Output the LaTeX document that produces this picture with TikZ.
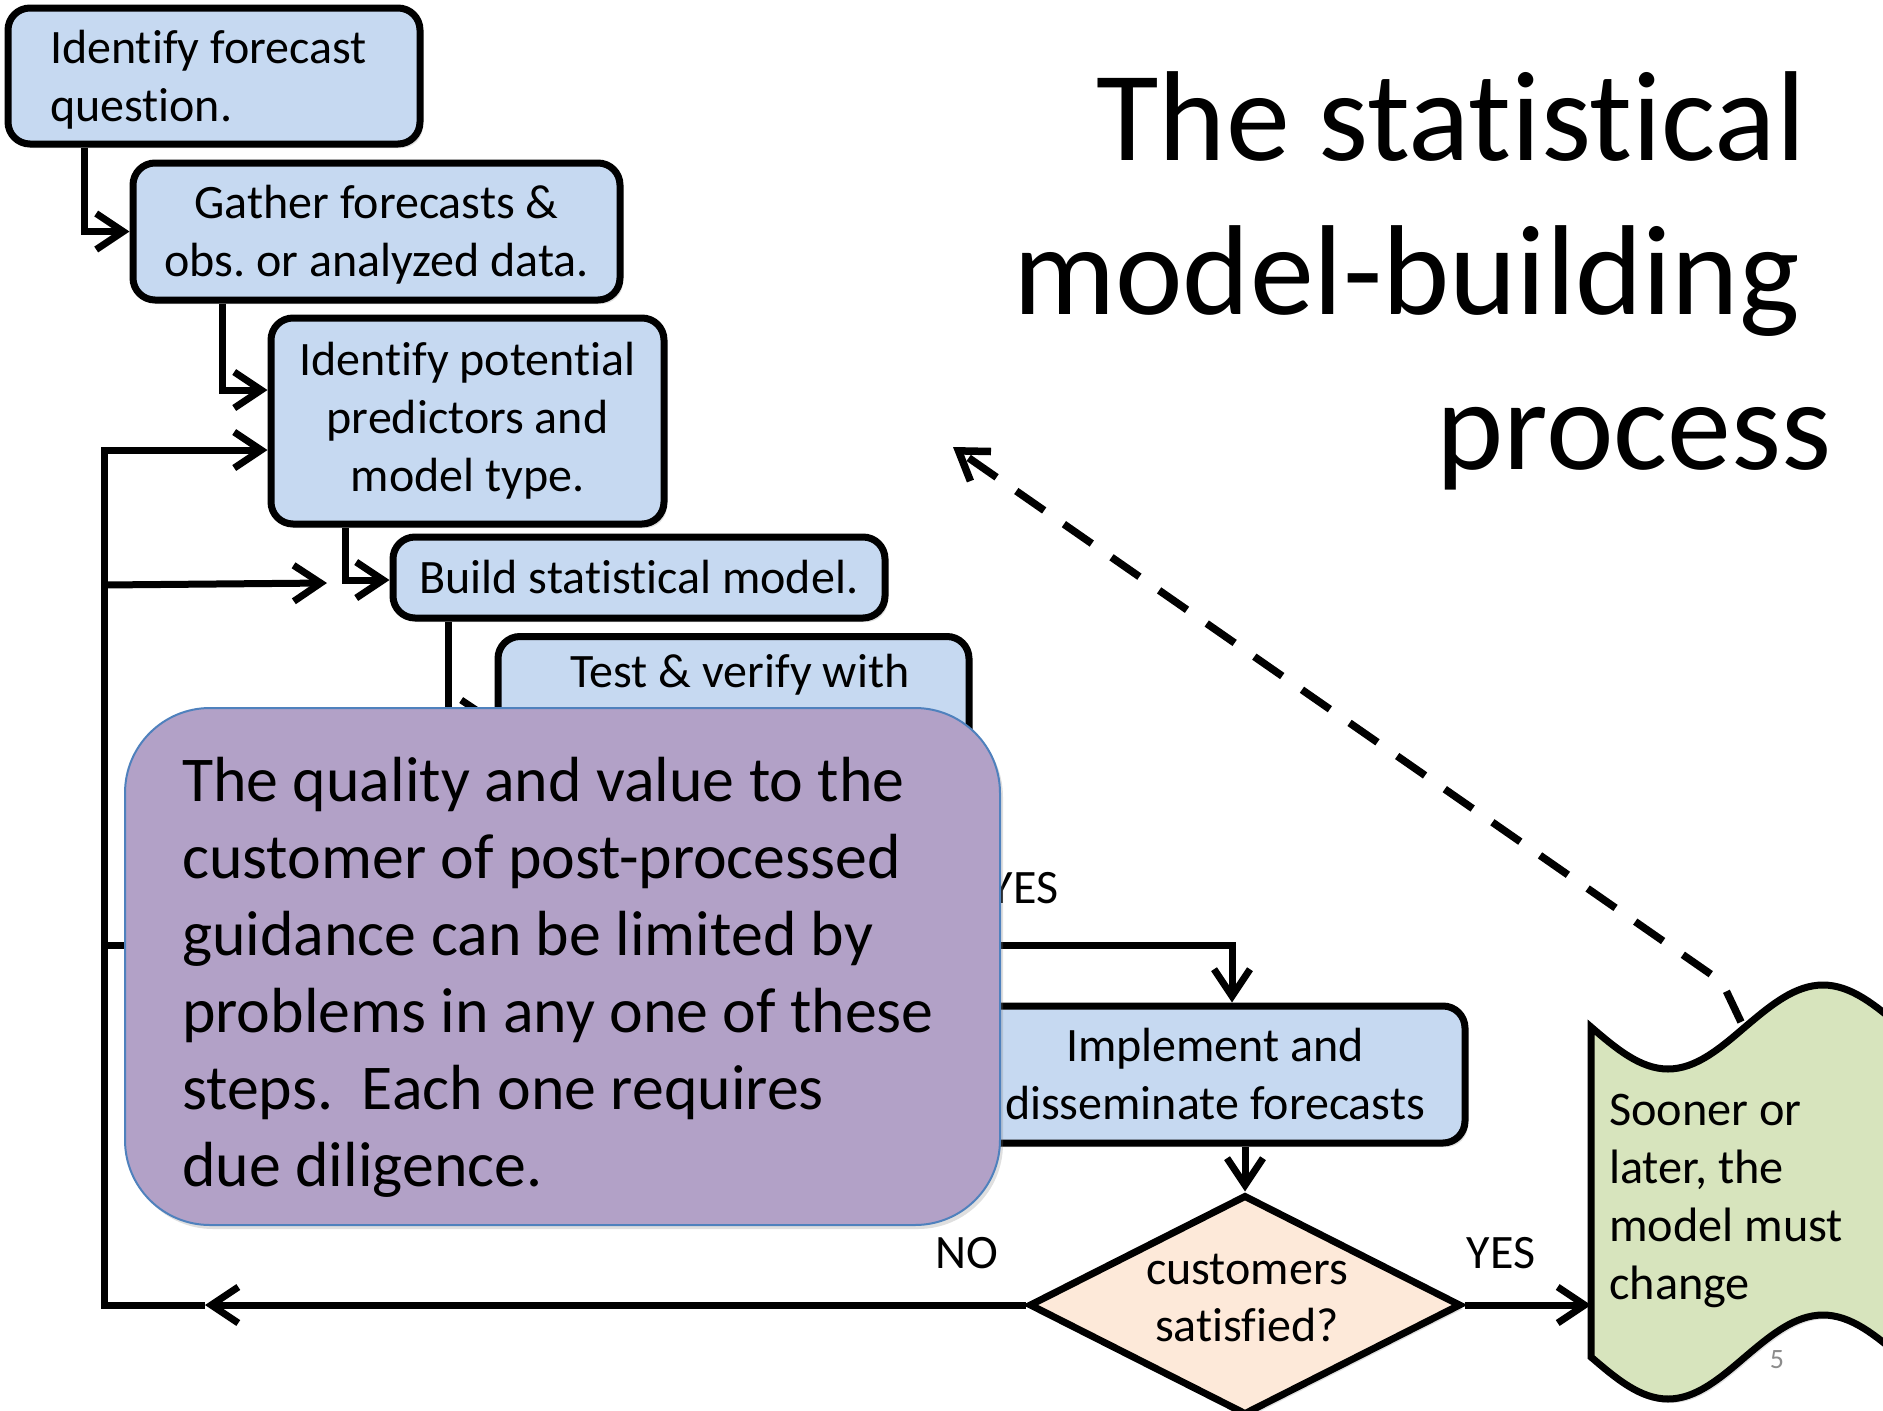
\documentclass[tikz,border=0pt]{standalone}
\usepackage{fontspec}
\setmainfont{Carlito}[Ligatures={NoCommon}]
\usetikzlibrary{arrows.meta,shapes.geometric,shadows,calc}
\definecolor{boxblue}{HTML}{C6D9F1}
\definecolor{notepurple}{HTML}{B2A1C7}
\definecolor{noteedge}{HTML}{4F81BD}
\definecolor{peach}{HTML}{FDE9D9}
\definecolor{tapegreen}{HTML}{D7E4BD}
\definecolor{pagegray}{HTML}{8C8C8C}
\frenchspacing
\begin{document}
\begin{tikzpicture}[x=1pt,y=-1pt,
  shade/.style={drop shadow={opacity=0.25,shadow xshift=3pt,shadow yshift=-4pt}},
  bluebox/.style={draw=black,line width=7pt,fill=boxblue,rounded corners=22pt,inner sep=0pt,shade,align=flush center,font=\fontsize{48}{58}\selectfont},
  txt/.style={inner sep=0pt,font=\fontsize{48}{57.5}\selectfont},
  conn/.style={line width=7pt},
  arr/.style={conn,-{Straight Barb[length=27pt,width=36pt]}},
  ttl/.style={inner sep=0pt,anchor=base east,font=\fontsize{128}{156}\selectfont},
]
\useasboundingbox (0,0) rectangle (1883,1411);

% title
\node[ttl] (t1) at (1806,160) {The statistical};
\node[ttl] (t2) at (1800,314) {model-building};
\node[ttl] (t3) at (1832,469) {process};

% step boxes
\node[bluebox,minimum width=412pt,minimum height=136pt,text width=328pt,align=flush left] (b1) at (214,76) {\rule{0pt}{40pt}Identify forecast\\question.};
\node[bluebox,minimum width=487pt,minimum height=137pt,text width=440pt] (b2) at (376.5,231.5) {\rule{0pt}{40pt}Gather forecasts \&\\obs. or analyzed data.};
\node[bluebox,minimum width=393pt,minimum height=206pt,text width=360pt] (b3) at (467.5,421) {Identify potential\\predictors and\\model type.};
\node[bluebox,minimum width=492pt,minimum height=81pt,text width=480pt] (b4) at (639,577.5) {Build statistical model.};
\node[bluebox,minimum width=471pt,minimum height=150pt,anchor=north] (b5) at (733.5,633) {};
\node[txt] (b5t) at (740,675) {Test \& verify with};
\node[bluebox,minimum width=500pt,minimum height=137pt,text width=480pt] (b6) at (1215,1074.5) {Implement and\\disseminate forecasts};
\node[diamond,draw=black,line width=7pt,fill=peach,inner sep=0pt,minimum width=432pt,minimum height=220pt,shade] (dia) at (1245,1305) {};
\node[txt,align=center] (diat) at (1247,1298) {customers\\satisfied?};

% connectors down the staircase
\draw[arr] (b1.south -| 84,0) |- (b2.west);
\draw[arr] (b2.south -| 222,0) |- (b3.west |- 0,390);
\draw[arr] (b3.south -| 345,0) |- (b4.west |- 0,580);
\draw[arr] (b4.south -| 448,0) |- (b5.west |- 0,718);

% feedback loop
\coordinate (lb) at (205,1305);
\coordinate (c1) at (104,1305);
\coordinate (c2) at (104,450);
\coordinate (c3) at (104,585);
\coordinate (c4) at (327,583);
\coordinate (c5) at (104,945);
\coordinate (c6) at (1232,945);
\draw[arr] (dia.west) -- (lb);
\draw[arr] (lb) -- (c1) -- (c2) -- (c2 -| b3.west);
\draw[arr] (c3) -- (c4);
\draw[arr] (c5) -- (c6) -- (c6 |- b6.north);
\draw[arr] (b6.south -| dia.north) -- (dia.north);

% labels
\node[txt] (yes1) at (1024,888) {YES};
\node[txt] (no) at (967,1253) {NO};
\node[txt] (yes2) at (1501,1253) {YES};

% note
\node[draw=noteedge,line width=2pt,fill=notepurple,rounded corners=85pt,minimum width=875pt,minimum height=517pt,inner sep=0pt,shade] (note) at (562.5,966.5) {};
\node[anchor=west,align=left,inner sep=0pt,font=\fontsize{63.8}{77}\selectfont] (notet) at (182,977.5)
{The quality and value to the\\customer of post-processed\\guidance can be limited by\\problems in any one of these\\steps.\ \ Each one requires\\due diligence.};

% punched-tape shape
\draw[line width=7pt,fill=tapegreen,shade] (1591,1027) sin (1668,1069) cos (1745,1027) sin (1823,985) cos (1901,1027)
  -- (1901,1357) sin (1823,1315) cos (1745,1357) sin (1668,1399) cos (1591,1357) -- cycle;
\coordinate (gl) at (1591,1305);
\node[txt,anchor=west,align=left,font=\fontsize{48.3}{58}\selectfont] (gt) at (1609,1201) {Sooner or\\later, the\\model must\\change};
\draw[arr] (dia.east) -- (gl);

% dashed arrow
\coordinate (gtop) at (1741,1022);
\coordinate (dk) at (1722,982);
\coordinate (dend) at (953,447);
\draw[arr,line width=7.5pt,dash pattern=on 34pt off 24pt] (gtop) -- (dk) -- (dend);

% page number
\node[inner sep=0pt,text=pagegray,font=\fontsize{28}{34}\selectfont] (pg) at (1777,1360) {5};
\end{tikzpicture}
\end{document}
